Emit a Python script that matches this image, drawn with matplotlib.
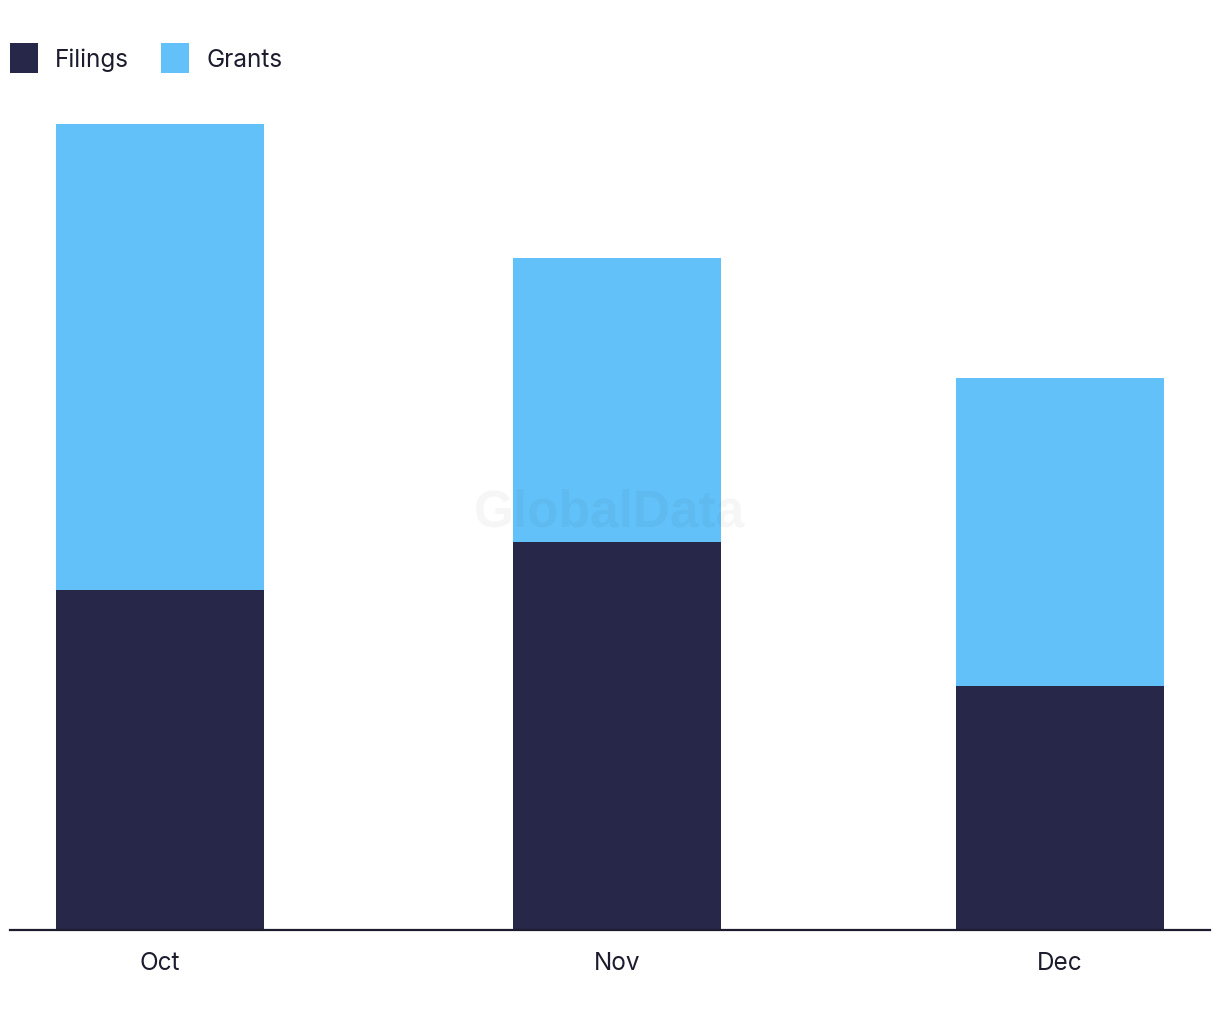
import matplotlib
matplotlib.use("Agg")
import matplotlib.pyplot as plt
import matplotlib.dates as mdates
import numpy as np
import pandas as pd

MONTHS = ["Oct", "Nov", "Dec"]
DATES = ["2023-10-16", "2023-11-16", "2023-12-16"]
FILINGS = [170, 194, 122]
GRANTS = [233, 142, 154]

DARK = "#27274a"
LIGHT = "#63c1f9"

plt.rcParams["font.family"] = ["Inter", "DejaVu Sans"]


def main():
    x = mdates.date2num(pd.to_datetime(DATES).to_pydatetime())
    filings = np.array(FILINGS)
    grants = np.array(GRANTS)
    w = 14.1  # days

    fig = plt.figure(figsize=(12.2, 10.2), dpi=100)
    ax = fig.add_axes([10 / 1220, 89 / 1020, 1200 / 1220, 830 / 1020])
    ax.bar(x, filings, w, color=DARK, label="Filings")
    ax.bar(x, grants, w, bottom=filings, color=LIGHT, label="Grants")

    ax.set_xlim(x[0] - 10.15, x[-1] + 10.15)
    ax.set_ylim(0, 415)
    ax.set_xticks(x)
    ax.set_xticklabels(MONTHS, fontsize=17.5, color="#1c1c2e")
    ax.tick_params(axis="x", length=0, pad=15)
    ax.set_yticks([])
    for s in ["top", "right", "left"]:
        ax.spines[s].set_visible(False)
    ax.spines["bottom"].set_color("#1c1c2e")
    ax.spines["bottom"].set_linewidth(1.6)

    fig.text(0.5, 0.497, "GlobalData", fontsize=37, fontweight="bold",
             family="Liberation Sans", color="#000000", alpha=0.035,
             ha="center", va="center")

    leg = fig.legend(loc="center left", bbox_to_anchor=(10 / 1220, 1 - 59 / 1020),
                     ncol=2, frameon=False, fontsize=17.5, handlelength=1.15,
                     handleheight=1.5, handletextpad=0.7, columnspacing=1.32,
                     borderaxespad=0, borderpad=0)
    for t in leg.get_texts():
        t.set_color("#1c1c2e")

    fig.savefig("out.png", dpi=100)
    plt.close(fig)


if __name__ == "__main__":
    main()
